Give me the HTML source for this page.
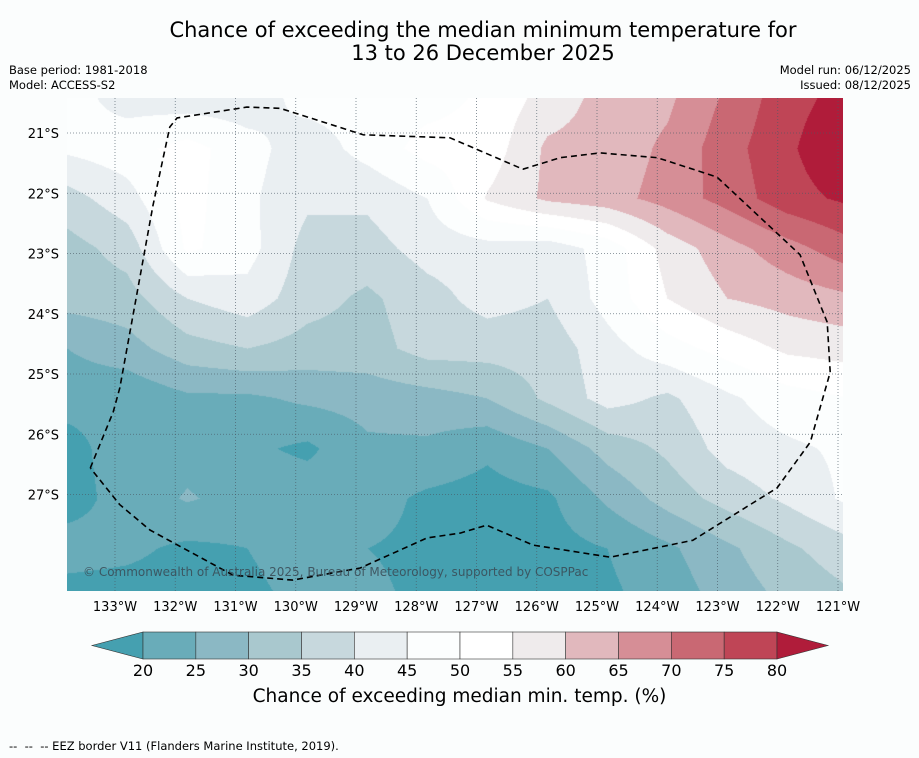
<!DOCTYPE html>
<html><head><meta charset="utf-8">
<style>
body{margin:0;background:#fbfdfd;font-family:"Liberation Sans","DejaVu Sans",sans-serif;}
#wrap{position:relative;width:919px;height:758px;overflow:hidden;background:#fbfdfd;}
.t{position:absolute;white-space:nowrap;color:#000;}
</style></head>
<body>
<div id="wrap">
<div class="t" style="left:0;width:966px;top:19px;text-align:center;font-size:21px;line-height:23px;font-family:'DejaVu Sans',sans-serif;">Chance of exceeding the median minimum temperature for<br>13 to 26 December 2025</div>
<div class="t" style="left:9px;top:63px;font-size:11.5px;line-height:15px;font-family:'DejaVu Sans',sans-serif;">Base period: 1981-2018<br>Model: ACCESS-S2</div>
<div class="t" style="right:8px;top:63px;font-size:11.5px;line-height:15px;text-align:right;font-family:'DejaVu Sans',sans-serif;">Model run: 06/12/2025<br>Issued: 08/12/2025</div>
<canvas id="map" width="776" height="493" style="position:absolute;left:67px;top:98px;"></canvas>
<svg id="ov" width="919" height="758" style="position:absolute;left:0;top:0;"></svg>
<div class="t" style="left:83px;top:565px;font-size:12px;color:#3a4a55;opacity:0.85;font-family:'DejaVu Sans',sans-serif;">© Commonwealth of Australia 2025, Bureau of Meteorology, supported by COSPPac</div>
<div class="t" style="left:0;width:919px;top:686px;text-align:center;font-size:18.5px;font-family:'DejaVu Sans',sans-serif;">Chance of exceeding median min. temp. (%)</div>
<div class="t" style="left:9px;top:739px;font-size:11.5px;font-family:'DejaVu Sans',sans-serif;">-- &nbsp;-- &nbsp;-- EEZ border V11 (Flanders Marine Institute, 2019).</div>
</div>
<script>
// grid: columns every 60px from x=67, rows every 50px from y=98
const gridValues = [
 [47,43,42,42,47,47,48,51,57,62,64,71,78,82],
 [46,48,52,47,42,47,52,52,61,62,66,73,79,85],
 [38,43,52,46,41,41,45,55.5,61,63,67,72,78,81],
 [33,37,51,47,38,38,42,43,42,47,57,63,68,73],
 [32,33,40,43,37,34,38,42,40,47,55,60,62,64],
 [25,28,33,35,33,33,37,37,37,43,48,52,56,57],
 [22,21,24,24,26,27,28,30,36,42,39,44,48,50],
 [18,23,23,21,19,24,24,21,25,32,36,42,44,46],
 [18,22,25.5,23,23,22,19,18,19,26,32,37,41,46],
 [22,21,19,20,22,20,19,18,18,20,24,29,34,38],
 [18,18,18,19,21,21,19,18,18,19,22,27,31,34]
];
const levels = [20,25,30,35,40,45,50,55,60,65,70,75,80];
const colors = ["#45a0b0","#69acb9","#8bb8c4","#a9c8ce","#c7d8dd","#eaeff2","#fcfefe","#ffffff","#efebec","#e1b8bd","#d68e96","#c96873","#bf4556","#b01c3a"];
const lonLabels = ["133°W","132°W","131°W","130°W","129°W","128°W","127°W","126°W","125°W","124°W","123°W","122°W","121°W"];
const latLabels = ["21°S","22°S","23°S","24°S","25°S","26°S","27°S"];
const lonValues = [-133,-132,-131,-130,-129,-128,-127,-126,-125,-124,-123,-122,-121];
const latValues = [-21,-22,-23,-24,-25,-26,-27];
const eezLon = [-133.41,-133.03,-132.92,-132.37,-132.09,-131.97,-130.81,-130.26,-128.88,-127.44,-126.23,-125.61,-124.95,-124.00,-123.01,-121.63,-121.18,-121.13,-121.46,-122.01,-123.41,-124.78,-126.06,-126.83,-127.27,-127.82,-128.93,-130.05,-131.04,-132.42,-132.92,-133.41];
const eezLat = [-26.56,-25.63,-25.23,-22.20,-20.90,-20.75,-20.57,-20.59,-21.03,-21.08,-21.60,-21.41,-21.33,-21.41,-21.73,-23.02,-24.14,-24.97,-26.13,-26.89,-27.76,-28.04,-27.84,-27.51,-27.64,-27.72,-28.22,-28.42,-28.34,-27.59,-27.17,-26.56];
</script>
<script>
const PX=60.25, X0=115, Y0=133;
const xOf = lon => X0 + (lon+133)*PX;
const yOf = lat => Y0 + (-21-lat)*PX;
const NS="http://www.w3.org/2000/svg";
function mk(tag, attrs, parent){const e=document.createElementNS(NS,tag);for(const k in attrs)e.setAttribute(k,attrs[k]);parent.appendChild(e);return e;}
const cv=document.getElementById('map'), ctx=cv.getContext('2d');
const W=776,H=493, rows=gridValues.length, cols=gridValues[0].length;
const img=ctx.createImageData(W,H);
const rgb=colors.map(c=>[parseInt(c.substr(1,2),16),parseInt(c.substr(3,2),16),parseInt(c.substr(5,2),16)]);
for(let py=0;py<H;py++){
  const gy=Math.min(py/50,rows-1.0001), j=Math.floor(gy), fy=gy-j;
  for(let px=0;px<W;px++){
    const gx=Math.min(px/60,cols-1.0001), i=Math.floor(gx), fx=gx-i;
    const v=gridValues[j][i]*(1-fx)*(1-fy)+gridValues[j][i+1]*fx*(1-fy)+gridValues[j+1][i]*(1-fx)*fy+gridValues[j+1][i+1]*fx*fy;
    let k=0;while(k<levels.length && v>=levels[k])k++;
    const o=(py*W+px)*4;img.data[o]=rgb[k][0];img.data[o+1]=rgb[k][1];img.data[o+2]=rgb[k][2];img.data[o+3]=255;
  }
}
ctx.putImageData(img,0,0);
const ov=document.getElementById('ov');
lonValues.forEach((lon,i)=>{
  const x=xOf(lon);
  const l=mk('line',{x1:x,x2:x,y1:98,y2:591,stroke:'#4a5a66','stroke-width':0.8,'stroke-dasharray':'1,2',opacity:0.8},ov);
  
  
  const t=mk('text',{x:x,y:611,'font-size':13,'text-anchor':'middle','font-family':'DejaVu Sans, sans-serif'},ov);
  t.textContent=lonLabels[i];
  
  
});
latValues.forEach((lat,i)=>{
  const y=yOf(lat);
  const l=mk('line',{x1:67,x2:843,y1:y,y2:y,stroke:'#4a5a66','stroke-width':0.8,'stroke-dasharray':'1,2',opacity:0.8},ov);
  
  
  const t=mk('text',{x:59,y:y+5,'font-size':13,'text-anchor':'end','font-family':'DejaVu Sans, sans-serif'},ov);
  t.textContent=latLabels[i];
  
  
});
let d='';eezLon.forEach((lon,i)=>{d+=(i?'L':'M')+xOf(lon).toFixed(1)+','+yOf(eezLat[i]).toFixed(1);});
const eez=mk('path',{d:d,fill:'none',stroke:'#000','stroke-width':1.6,'stroke-dasharray':'6,4','stroke-linejoin':'round'},ov);


const cbX0=143, cbW=634/12, cbY=632, cbH=27;
const tri1=mk('polygon',{points:`${cbX0},${cbY} ${cbX0},${cbY+cbH} 92,${cbY+cbH/2}`,fill:colors[0],stroke:'#333','stroke-width':0.6},ov);


for(let k=0;k<12;k++){
  const r=mk('rect',{x:cbX0+k*cbW,y:cbY,width:cbW,height:cbH,fill:colors[k+1],stroke:'#333','stroke-width':0.6},ov);
  
  
}
const xe=cbX0+12*cbW;
const tri2=mk('polygon',{points:`${xe},${cbY} ${xe},${cbY+cbH} 828,${cbY+cbH/2}`,fill:colors[13],stroke:'#333','stroke-width':0.6},ov);


levels.forEach((lv,k)=>{
  const t=mk('text',{x:cbX0+k*cbW,y:676,'font-size':16,'text-anchor':'middle','font-family':'DejaVu Sans, sans-serif'},ov);
  t.textContent=lv;
  
  
});
</script>
</body></html>
